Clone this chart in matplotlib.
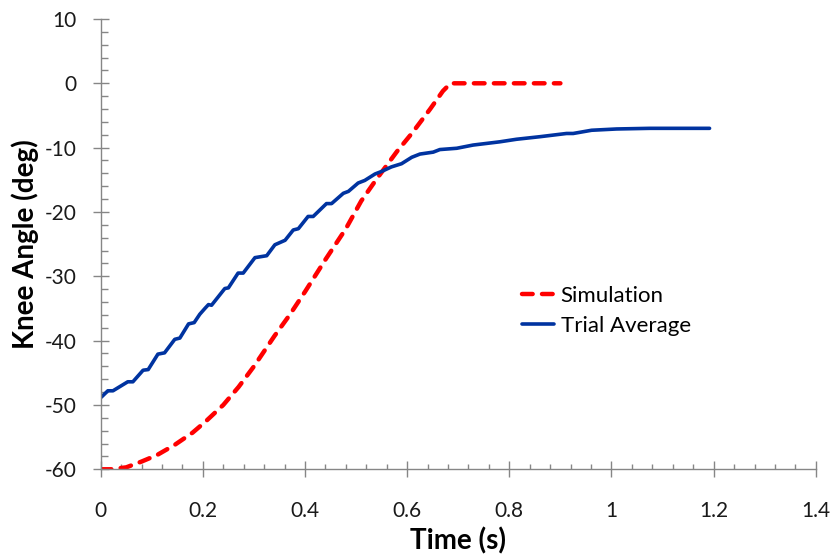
import matplotlib
matplotlib.use('Agg')
import matplotlib.pyplot as plt
from matplotlib.ticker import MultipleLocator

plt.rcParams['font.family'] = ['Lato', 'DejaVu Sans']
plt.rcParams['axes.unicode_minus'] = False  # Excel style hyphen minus

# --- Data ---
sim_time = [0.0, 0.02, 0.05, 0.08, 0.11, 0.145, 0.18, 0.205, 0.24, 0.27, 0.30,
            0.34, 0.37, 0.40, 0.44, 0.48, 0.51, 0.54, 0.58, 0.61, 0.645, 0.67,
            0.685, 0.9]
sim_angle = [-60.0, -60.0, -59.7, -58.8, -57.8, -56.2, -54.3, -52.6, -50.0, -47.2, -44.0,
             -39.3, -36.0, -32.4, -27.4, -22.6, -18.3, -14.9, -10.6, -7.7, -4.0, -1.2,
             0.0, 0.0]

trial_time = [0.001, 0.014, 0.024, 0.053, 0.063, 0.083, 0.093, 0.112, 0.125, 0.145,
              0.155, 0.172, 0.183, 0.194, 0.204, 0.211, 0.217, 0.243, 0.250, 0.269,
              0.279, 0.302, 0.325, 0.341, 0.361, 0.377, 0.387, 0.406, 0.416, 0.442,
              0.452, 0.475, 0.485, 0.504, 0.517, 0.537, 0.550, 0.569, 0.589, 0.609,
              0.625, 0.651, 0.664, 0.697, 0.729, 0.781, 0.814, 0.860, 0.912, 0.925,
              0.961, 1.010, 1.075, 1.192]
trial_angle = [-48.8, -47.8, -47.8, -46.4, -46.4, -44.6, -44.5, -42.1, -41.9, -39.8,
               -39.6, -37.4, -37.2, -35.9, -35.0, -34.4, -34.5, -31.9, -31.8, -29.5,
               -29.5, -27.1, -26.8, -25.1, -24.4, -22.8, -22.6, -20.7, -20.7, -18.7,
               -18.7, -17.1, -16.8, -15.5, -15.1, -14.1, -13.7, -13.0, -12.5, -11.5,
               -11.0, -10.7, -10.3, -10.1, -9.6, -9.1, -8.7, -8.3, -7.8, -7.8,
               -7.3, -7.1, -7.0, -7.0]

x_ticks = [0, 0.2, 0.4, 0.6, 0.8, 1.0, 1.2, 1.4]
x_tick_labels = ['0', '0.2', '0.4', '0.6', '0.8', '1', '1.2', '1.4']
y_ticks = [-60, -50, -40, -30, -20, -10, 0, 10]

# --- Figure ---
fig = plt.figure(figsize=(8.35, 5.58), dpi=100)
ax = fig.add_axes([0.1206, 0.159, 0.8564, 0.807])

ax.plot(sim_time, sim_angle, color='#ff0000', linewidth=3.2,
        linestyle=(0, (2.4, 2.1)), dash_capstyle='round', label='Simulation')
ax.plot(trial_time, trial_angle, color='#0033a0', linewidth=2.6,
        solid_capstyle='round', label='Trial Average')

ax.set_xlim(0, 1.4)
ax.set_ylim(-60, 10)
ax.set_xticks(x_ticks)
ax.set_xticklabels(x_tick_labels)
ax.set_yticks(y_ticks)
ax.xaxis.set_minor_locator(MultipleLocator(0.04))
ax.yaxis.set_minor_locator(MultipleLocator(2))

for side in ['top', 'right']:
    ax.spines[side].set_visible(False)
for side in ['left', 'bottom']:
    ax.spines[side].set_color('#868686')
    ax.spines[side].set_linewidth(1.0)

ax.tick_params(which='major', direction='inout', length=11, width=1.0,
               color='#868686', labelsize=15, labelcolor='#1a1a1a')
ax.tick_params(axis='y', which='major', pad=12)
ax.tick_params(axis='x', which='major', pad=17)
ax.tick_params(axis='x', which='minor', direction='in', length=3.8, width=1.0, color='#868686')
ax.tick_params(axis='y', which='minor', direction='in', length=5, width=1.0, color='#868686')

ax.set_xlabel('Time (s)', fontsize=20, fontweight='bold', labelpad=5)
ax.set_ylabel('Knee Angle (deg)', fontsize=20, fontweight='bold', labelpad=4)

leg = ax.legend(loc='center left', bbox_to_anchor=(0.625, 0.4427),
                bbox_transform=fig.transFigure, frameon=False, fontsize=16,
                handlelength=1.45, handletextpad=0.3, labelspacing=0.45,
                borderpad=0, borderaxespad=0)

plt.savefig('out.png', dpi=100)
plt.close()
